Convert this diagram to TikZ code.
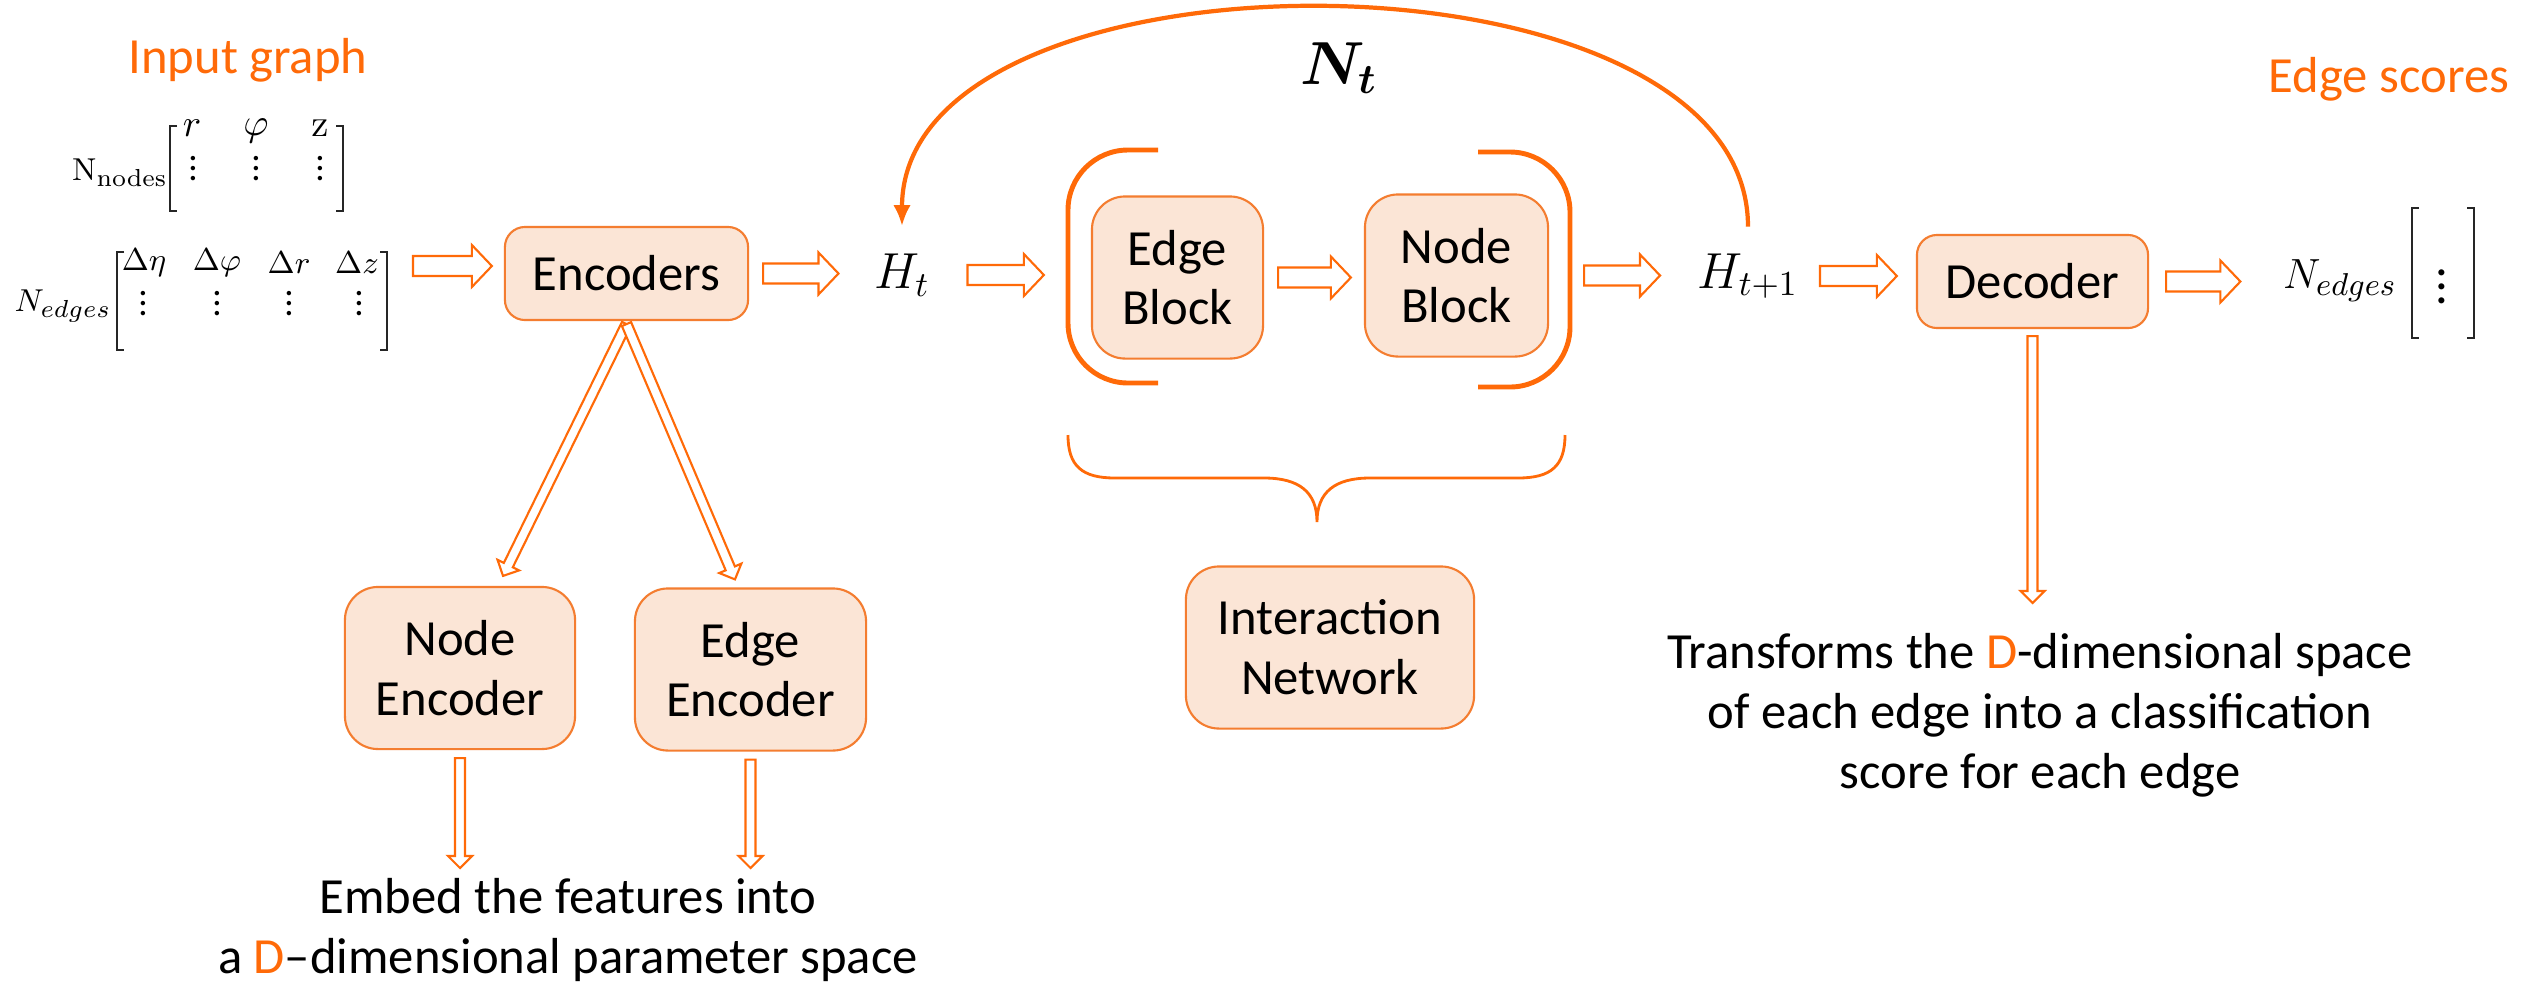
\documentclass[tikz,border=0pt]{standalone}
\usepackage{amsmath}
\usepackage[no-math]{fontspec}
\setmainfont{Carlito}
\usepackage{xcolor}
\usepackage{tikz}
\usetikzlibrary{calc,arrows.meta}

\definecolor{ignorange}{RGB}{255,106,8}
\definecolor{boxline}{RGB}{244,125,48}
\definecolor{boxfill}{RGB}{251,229,214}

\newcommand{\vd}{\vbox{\baselineskip2.9pt\lineskiplimit0pt\kern1pt\hbox{.}\hbox{.}\hbox{.}}}

\begin{document}
\begin{tikzpicture}[
    x=0.01cm, y=-0.01cm,
    txt/.style={font=\fontsize{14.4}{17}\selectfont, align=center},
    box/.style={rectangle, draw=boxline, line width=0.6pt, fill=boxfill, rounded corners=0.2cm, minimum height=0.93cm, inner sep=0pt, txt},
    tallbox/.style={box, rounded corners=0.33cm, minimum height=1.62cm},
    mtxt/.style={inner sep=0pt, font=\fontsize{14.4}{17}\selectfont},
    entry/.style={inner sep=0pt, font=\fontsize{10.5}{12}\selectfont},
    smallentry/.style={inner sep=0pt, font=\fontsize{9}{11}\selectfont},
    brk/.style={draw=black!85, line width=0.6pt},
    blk/.style={draw=ignorange, fill=white, line width=0.6pt, line join=miter,
      to path={($(\tikztostart)!0.1cm!90:(\tikztotarget)$)
        -- ($(\tikztotarget)!0.2236cm!-26.57:(\tikztostart)$)
        -- ($(\tikztotarget)!0.29cm!-46.4:(\tikztostart)$)
        -- (\tikztotarget)
        -- ($(\tikztotarget)!0.29cm!46.4:(\tikztostart)$)
        -- ($(\tikztotarget)!0.2236cm!26.57:(\tikztostart)$)
        -- ($(\tikztostart)!0.1cm!-90:(\tikztotarget)$) -- cycle}},
    thinblk/.style={draw=ignorange, fill=white, line width=0.6pt, line join=miter,
      to path={($(\tikztostart)!0.05cm!90:(\tikztotarget)$)
        -- ($(\tikztotarget)!0.13cm!-22.62:(\tikztostart)$)
        -- ($(\tikztotarget)!0.17cm!-45:(\tikztostart)$)
        -- (\tikztotarget)
        -- ($(\tikztotarget)!0.17cm!45:(\tikztostart)$)
        -- ($(\tikztotarget)!0.13cm!22.62:(\tikztostart)$)
        -- ($(\tikztostart)!0.05cm!-90:(\tikztotarget)$) -- cycle}},
    paren/.style={draw=ignorange, line width=1.4pt, rounded corners=0.6cm},
    feedback/.style={draw=ignorange, line width=1.2pt, -{Latex[length=6pt,width=5pt]}},
    curly/.style={draw=ignorange, line width=0.8pt}
]
\fill[white] (0,0) rectangle (2526,984);
\useasboundingbox (0,0) rectangle (2526,984);

% Graphe d'entree
\node[txt, text=ignorange] (ingraph) at (248,60) {Input graph};
\node[smallentry, font=\fontsize{9.5}{11}\selectfont, anchor=base] (nodelbl) at (120,180) {$\mathrm{N}_{\mathrm{nodes}}$};
\node[entry] (nr) at (192,128) {$r$};
\node[entry] (nphi) at (256,131) {$\varphi$};
\node[entry] (nz) at (320,128) {$\mathrm{z}$};
\node[entry] (nd1) at (193,167) {\vd};
\node[entry] (nd2) at (256,167) {\vd};
\node[entry] (nd3) at (320,167) {\vd};
\draw[brk] (177,126) -- (170,126) -- (170,211) -- (177,211);
\draw[brk] (336,126) -- (343,126) -- (343,211) -- (336,211);

\node[smallentry, font=\fontsize{9.5}{11}\selectfont, anchor=base] (edgelbl) at (63,311) {$N_{edges}$};
\node[smallentry] (eeta) at (144,263) {$\Delta\eta$};
\node[smallentry] (ephi) at (217,263) {$\Delta\varphi$};
\node[smallentry] (er) at (289,263) {$\Delta r$};
\node[smallentry] (ez) at (357,263) {$\Delta z$};
\node[entry] (ed1) at (143,302) {\vd};
\node[entry] (ed2) at (217,302) {\vd};
\node[entry] (ed3) at (289,302) {\vd};
\node[entry] (ed4) at (359,302) {\vd};
\draw[brk] (124,252) -- (117,252) -- (117,350) -- (124,350);
\draw[brk] (380,252) -- (387,252) -- (387,350) -- (380,350);
\coordinate (edgemat) at (388,266);

% Blocs
\node[box, minimum width=2.43cm] (enc) at (626.5,273.5) {Encoders};
\node[mtxt] (ht) at (902,275) {$H_t$};
\node[tallbox, minimum width=1.71cm] (eb) at (1177.5,277.5) {Edge\\Block};
\node[tallbox, minimum width=1.83cm] (nb) at (1456.5,275.5) {Node\\Block};
\node[mtxt] (ht1) at (1748,276) {$H_{t+1}$};
\node[box, minimum width=2.31cm] (dec) at (2032.5,281.5) {Decoder};
\node[tallbox, minimum width=2.30cm] (ne) at (460,668) {Node\\Encoder};
\node[tallbox, minimum width=2.31cm] (ee) at (750.5,669.5) {Edge\\Encoder};
\node[tallbox, minimum width=2.88cm] (inet) at (1330,647.5) {Interaction\\Network};

% Sortie
\node[txt, text=ignorange] (scores) at (2389,79) {Edge scores};
\node[mtxt, font=\fontsize{13}{15}\selectfont, anchor=base] (outlbl) at (2340,288) {$N_{edges}$};
\node[mtxt] (outdots) at (2442,276) {$\vdots$};
\draw[brk] (2419,208) -- (2412,208) -- (2412,338) -- (2419,338);
\draw[brk] (2467,208) -- (2474,208) -- (2474,338) -- (2467,338);

% Textes
\node[txt, anchor=north, inner sep=0pt] (embed) at (568,878) {Embed the features into\\a {\color{ignorange}D}--dimensional parameter space};
\node[txt, anchor=north, inner sep=0pt] (transf) at (2040,633) {Transforms the {\color{ignorange}D}-dimensional space\\of each edge into a classification\\score for each edge};

% Fleches
\path[blk] ([xshift=0.25cm]edgemat) to ([xshift=-0.12cm]enc.west |- edgemat);
\path[blk] ([xshift=0.14cm]enc.east) to ([xshift=-0.35cm]ht.west |- enc.east);
\path[blk] ([xshift=0.37cm]ht.east) to ([xshift=-0.47cm]eb.west |- ht.east);
\path[blk] ([xshift=0.14cm]eb.east) to ([xshift=-0.13cm]nb.west |- eb.east);
\path[blk] ([xshift=0.35cm]nb.east) to ([xshift=-0.37cm]ht1.west |- nb.east);
\path[blk] ([xshift=0.21cm]ht1.east) to ([xshift=-0.19cm]dec.west |- ht1.east);
\path[blk] ([xshift=0.17cm]dec.east) to ([xshift=-0.42cm]outlbl.west |- dec.east);

\path[thinblk] ([yshift=-0.03cm]enc.south) to ([xshift=0.43cm, yshift=0.1cm]ne.north);
\path[thinblk] ([yshift=-0.03cm]enc.south) to ([xshift=-0.155cm, yshift=0.08cm]ee.north);
\path[thinblk] ([yshift=-0.08cm]ne.south) to ([yshift=0.1cm]ne.south |- embed.north);
\path[thinblk] ([yshift=-0.08cm]ee.south) to ([yshift=0.1cm]ee.south |- embed.north);
\path[thinblk] ([yshift=-0.07cm]dec.south) to ([yshift=0.3cm]dec.south |- transf.north);

% Reseau d'interaction
\draw[paren] (1158,150) -- (1068,150) -- (1068,383) -- (1158,383);
\draw[paren] (1478,152) -- (1570,152) -- (1570,387) -- (1478,387);
\draw[curly] (1068,435) .. controls (1068,466) and (1082,478) .. (1115,478) -- (1264,478)
  .. controls (1299,478) and (1317,492) .. (1317,522)
  .. controls (1317,492) and (1335,478) .. (1370,478) -- (1518,478)
  .. controls (1551,478) and (1565,466) .. (1565,435);

% Boucle
\draw[feedback] ([yshift=0.26cm]ht1.north) .. controls +(0,-291) and +(0,-291) .. ([yshift=0.27cm]ht.north);
\node[mtxt, font=\fontsize{18}{21}\selectfont] (nt) at (1339,68) {$\boldsymbol{N_t}$};

\end{tikzpicture}
\end{document}
